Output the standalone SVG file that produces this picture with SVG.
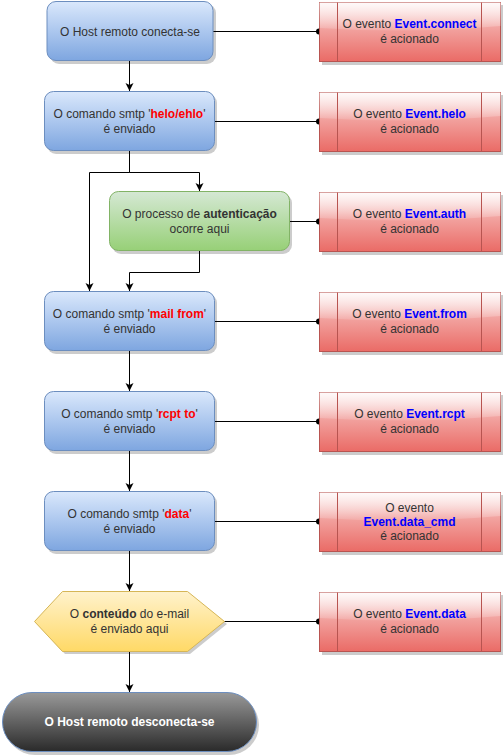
<svg xmlns="http://www.w3.org/2000/svg" width="503" height="756" viewBox="0 0 503 756">
<defs>
<linearGradient id="gBlue" x1="0" y1="0" x2="0" y2="1"><stop offset="0" stop-color="#dae8fc"/><stop offset="1" stop-color="#7ea6e0"/></linearGradient>
<linearGradient id="gGreen" x1="0" y1="0" x2="0" y2="1"><stop offset="0" stop-color="#d5e8d4"/><stop offset="1" stop-color="#97d077"/></linearGradient>
<linearGradient id="gYellow" x1="0" y1="0" x2="0" y2="1"><stop offset="0" stop-color="#fff2cc"/><stop offset="1" stop-color="#ffd966"/></linearGradient>
<linearGradient id="gRed" x1="0" y1="0" x2="0" y2="1"><stop offset="0" stop-color="#f8cecc"/><stop offset="1" stop-color="#ea6b66"/></linearGradient>
<linearGradient id="gGray" x1="0" y1="0" x2="0" y2="1"><stop offset="0" stop-color="#999999"/><stop offset="1" stop-color="#2a2a2a"/></linearGradient>
<linearGradient id="gGlass" x1="0" y1="0" x2="0" y2="1"><stop offset="0" stop-color="#ffffff" stop-opacity="0.9"/><stop offset="1" stop-color="#ffffff" stop-opacity="0.1"/></linearGradient>
<marker id="arr" markerWidth="10" markerHeight="10" refX="8" refY="4" orient="auto" markerUnits="userSpaceOnUse" viewBox="0 0 10 10">
<path d="M0,0 L8,4 L0,8 L2,4 Z" fill="#000"/>
</marker>
</defs>
<style>
text{font-family:"Liberation Sans",Arial,sans-serif;font-size:12px;fill:#333333;text-anchor:middle}
.b{font-weight:bold}
.red{fill:#ff0000;font-weight:bold}
.blue{fill:#0000ff;font-weight:bold}
.wt{fill:#ffffff;font-weight:bold}
.shadow{fill:#000;opacity:0.2}
.blueN{fill:url(#gBlue);stroke:#6c8ebf;stroke-width:1}
.greenN{fill:url(#gGreen);stroke:#82b366;stroke-width:1}
.yellowN{fill:url(#gYellow);stroke:#d6b656;stroke-width:1}
.redN{fill:url(#gRed);stroke:#b85450;stroke-width:1}
.grayN{fill:url(#gGray);stroke:#6c8ebf;stroke-width:1}
.glass{fill:url(#gGlass)}
.div{stroke:#b85450;stroke-width:1;fill:none}
.edge{fill:none;stroke:#000;stroke-width:1}
.dot{fill:#000}
</style>

<g id="connectors">
<path class="edge" d="M129.5,61 V91" marker-end="url(#arr)"/>
<path class="edge" d="M129.5,151 V172.5 H89.5 V291" marker-end="url(#arr)"/>
<path class="edge" d="M129.5,151 V172.5 H199.5 V191" marker-end="url(#arr)"/>
<path class="edge" d="M199.5,251 V272.5 H129.5 V291" marker-end="url(#arr)"/>
<path class="edge" d="M129.5,351 V391" marker-end="url(#arr)"/>
<path class="edge" d="M129.5,451 V491" marker-end="url(#arr)"/>
<path class="edge" d="M129.5,551 V591" marker-end="url(#arr)"/>
<path class="edge" d="M129.5,651 V692" marker-end="url(#arr)"/>
<path class="edge" d="M213,31.5 H319"/><circle class="dot" cx="319" cy="31.5" r="3"/>
<path class="edge" d="M214,121.5 H319"/><circle class="dot" cx="319" cy="121.5" r="3"/>
<path class="edge" d="M289,221.5 H319"/><circle class="dot" cx="319" cy="221.5" r="3"/>
<path class="edge" d="M214,321.5 H319"/><circle class="dot" cx="319" cy="321.5" r="3"/>
<path class="edge" d="M214,421.5 H319"/><circle class="dot" cx="319" cy="421.5" r="3"/>
<path class="edge" d="M214,521.5 H319"/><circle class="dot" cx="319" cy="521.5" r="3"/>
<path class="edge" d="M224,621.5 H319"/><circle class="dot" cx="319" cy="621.5" r="3"/>
</g>

<g id="n_connect">
<rect class="shadow" x="50" y="4" width="166" height="60" rx="9"/>
<rect class="blueN" x="47" y="1.5" width="166" height="59" rx="9"/>
<text x="130" y="36">O Host remoto conecta-se</text>
</g>
<g id="n_helo">
<rect class="shadow" x="47" y="94" width="170" height="60" rx="9"/>
<rect class="blueN" x="44.5" y="91.5" width="170" height="59" rx="9"/>
<text x="129.5" y="118">O comando smtp '<tspan class="red">helo/ehlo</tspan>'</text>
<text x="129.5" y="133">é enviado</text>
</g>
<g id="n_auth">
<rect class="shadow" x="112" y="194" width="180" height="60" rx="9"/>
<rect class="greenN" x="109.5" y="191.5" width="180" height="59" rx="9"/>
<text x="199.5" y="218">O processo de <tspan class="b">autenticação</tspan></text>
<text x="199.5" y="233">ocorre aqui</text>
</g>
<g id="n_from">
<rect class="shadow" x="47" y="294" width="170" height="60" rx="9"/>
<rect class="blueN" x="44.5" y="291.5" width="170" height="59" rx="9"/>
<text x="129.5" y="318">O comando smtp '<tspan class="red">mail from</tspan>'</text>
<text x="129.5" y="333">é enviado</text>
</g>
<g id="n_rcpt">
<rect class="shadow" x="47" y="394" width="170" height="60" rx="9"/>
<rect class="blueN" x="44.5" y="391.5" width="170" height="59" rx="9"/>
<text x="129.5" y="418">O comando smtp '<tspan class="red">rcpt to</tspan>'</text>
<text x="129.5" y="433">é enviado</text>
</g>
<g id="n_data">
<rect class="shadow" x="47" y="494" width="170" height="60" rx="9"/>
<rect class="blueN" x="44.5" y="491.5" width="170" height="59" rx="9"/>
<text x="129.5" y="518">O comando smtp '<tspan class="red">data</tspan>'</text>
<text x="129.5" y="533">é enviado</text>
</g>
<g id="n_content">
<polygon class="shadow" points="37,624 65,595 190,595 227,624 190,654 65,654"/>
<polygon class="yellowN" points="34.5,621.5 62.5,591.5 187.5,591.5 224.5,621.5 187.5,651.5 62.5,651.5"/>
<text x="129.5" y="618">O <tspan class="b">conteúdo</tspan> do e-mail</text>
<text x="129.5" y="633">é enviado aqui</text>
</g>
<g id="n_disconnect">
<rect class="shadow" x="5" y="695" width="254" height="60" rx="30"/>
<rect class="grayN" x="2.5" y="692.5" width="254" height="59" rx="29.5"/>
<text class="wt" x="129.5" y="726">O Host remoto desconecta-se</text>
</g>

<g id="e_connect">
<rect class="shadow" x="322" y="5" width="181" height="60"/>
<rect class="redN" x="319.5" y="2.5" width="181" height="59"/>
<path class="glass" d="M319.5,2.5 H500.5 V26 Q410,34 319.5,28 Z"/>
<path class="div" d="M337.5,2.5 V61.5 M481.5,2.5 V61.5"/>
<text x="409.5" y="28">O evento <tspan class="blue">Event.connect</tspan></text>
<text x="409.5" y="43">é acionado</text>
</g>
<g id="e_helo">
<rect class="shadow" x="322" y="95" width="181" height="60"/>
<rect class="redN" x="319.5" y="92.5" width="181" height="59"/>
<path class="glass" d="M319.5,92.5 H500.5 V116 Q410,124 319.5,118 Z"/>
<path class="div" d="M337.5,92.5 V151.5 M481.5,92.5 V151.5"/>
<text x="409.5" y="118">O evento <tspan class="blue">Event.helo</tspan></text>
<text x="409.5" y="133">é acionado</text>
</g>
<g id="e_auth">
<rect class="shadow" x="322" y="195" width="181" height="60"/>
<rect class="redN" x="319.5" y="192.5" width="181" height="59"/>
<path class="glass" d="M319.5,192.5 H500.5 V216 Q410,224 319.5,218 Z"/>
<path class="div" d="M337.5,192.5 V251.5 M481.5,192.5 V251.5"/>
<text x="409.5" y="218">O evento <tspan class="blue">Event.auth</tspan></text>
<text x="409.5" y="233">é acionado</text>
</g>
<g id="e_from">
<rect class="shadow" x="322" y="295" width="181" height="60"/>
<rect class="redN" x="319.5" y="292.5" width="181" height="59"/>
<path class="glass" d="M319.5,292.5 H500.5 V316 Q410,324 319.5,318 Z"/>
<path class="div" d="M337.5,292.5 V351.5 M481.5,292.5 V351.5"/>
<text x="409.5" y="318">O evento <tspan class="blue">Event.from</tspan></text>
<text x="409.5" y="333">é acionado</text>
</g>
<g id="e_rcpt">
<rect class="shadow" x="322" y="395" width="181" height="60"/>
<rect class="redN" x="319.5" y="392.5" width="181" height="59"/>
<path class="glass" d="M319.5,392.5 H500.5 V416 Q410,424 319.5,418 Z"/>
<path class="div" d="M337.5,392.5 V451.5 M481.5,392.5 V451.5"/>
<text x="409.5" y="418">O evento <tspan class="blue">Event.rcpt</tspan></text>
<text x="409.5" y="433">é acionado</text>
</g>
<g id="e_data_cmd">
<rect class="shadow" x="322" y="495" width="181" height="60"/>
<rect class="redN" x="319.5" y="492.5" width="181" height="59"/>
<path class="glass" d="M319.5,492.5 H500.5 V516 Q410,524 319.5,518 Z"/>
<path class="div" d="M337.5,492.5 V551.5 M481.5,492.5 V551.5"/>
<text x="409.5" y="512">O evento</text>
<text x="409.5" y="526" class="blue">Event.data_cmd</text>
<text x="409.5" y="540">é acionado</text>
</g>
<g id="e_data">
<rect class="shadow" x="322" y="595" width="181" height="60"/>
<rect class="redN" x="319.5" y="592.5" width="181" height="59"/>
<path class="glass" d="M319.5,592.5 H500.5 V616 Q410,624 319.5,618 Z"/>
<path class="div" d="M337.5,592.5 V651.5 M481.5,592.5 V651.5"/>
<text x="409.5" y="618">O evento <tspan class="blue">Event.data</tspan></text>
<text x="409.5" y="633">é acionado</text>
</g>
</svg>
